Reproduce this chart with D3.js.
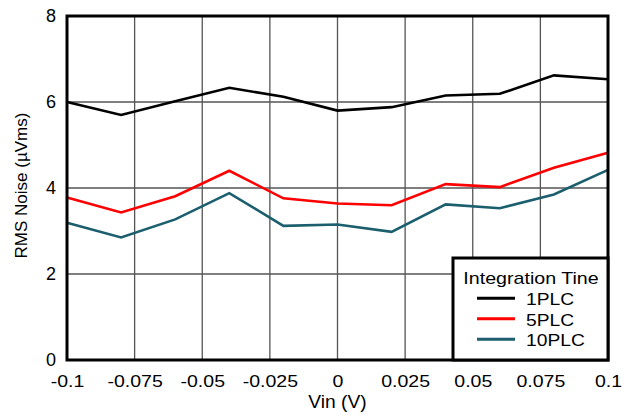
<!DOCTYPE html>
<html>
<head>
<meta charset="utf-8">
<script src="https://cdn.jsdelivr.net/npm/d3@7"></script>
<style>
  body { margin: 0; background: #fff; }
  text { font-family: "Liberation Sans", Arial, sans-serif; fill: #000; }
</style>
</head>
<body>
<svg id="chart" width="631" height="416"></svg>
<script>
// data
var vin = [-0.1, -0.08, -0.06, -0.04, -0.02, 0, 0.02, 0.04, 0.06, 0.08, 0.1]
var plc1 = [6.0, 5.7, 6.02, 6.33, 6.12, 5.8, 5.88, 6.15, 6.19, 6.62, 6.53]
var plc5 = [3.78, 3.43, 3.81, 4.4, 3.76, 3.64, 3.6, 4.09, 4.02, 4.47, 4.82]
var plc10 = [3.19, 2.85, 3.27, 3.88, 3.12, 3.15, 2.98, 3.62, 3.53, 3.85, 4.42]
var seriesNames = ['1PLC', '5PLC', '10PLC']
var xTicks = [-0.1, -0.075, -0.05, -0.025, 0, 0.025, 0.05, 0.075, 0.1]
var yTicks = [0, 2, 4, 6, 8]

var colors = ['#000000', '#ff0000', '#1b5e6d']
var series = [plc1, plc5, plc10]

var m = { left: 67, right: 608, top: 16, bottom: 360 }
var font = '"Liberation Sans", Arial, sans-serif'
var svg = d3.select('#chart')

var x = d3.scaleLinear().domain([-0.1, 0.1]).range([m.left, m.right])
var y = d3.scaleLinear().domain([0, 8]).range([m.bottom, m.top])

// grid
var grid = svg.append('g').attr('stroke', '#555').attr('stroke-width', 1.3)
grid.selectAll('line.gx')
  .data(xTicks.slice(1, -1))
  .enter().append('line')
  .attr('x1', d => x(d)).attr('x2', d => x(d))
  .attr('y1', m.top).attr('y2', m.bottom)
grid.selectAll('line.gy')
  .data(yTicks.slice(1, -1))
  .enter().append('line')
  .attr('x1', m.left).attr('x2', m.right)
  .attr('y1', d => y(d)).attr('y2', d => y(d))

// lines
var line = d3.line()
  .x((d, i) => x(vin[i]))
  .y(d => y(d))

svg.append('g').selectAll('path')
  .data(series)
  .enter().append('path')
  .attr('d', line)
  .attr('fill', 'none')
  .attr('stroke', (d, i) => colors[i])
  .attr('stroke-width', 2.6)

// frame
svg.append('rect')
  .attr('x', m.left).attr('y', m.top)
  .attr('width', m.right - m.left).attr('height', m.bottom - m.top)
  .attr('fill', 'none').attr('stroke', '#000').attr('stroke-width', 3)

// axes, drawn without domain lines
var xAxis = svg.append('g')
  .attr('transform', 'translate(0,' + m.bottom + ')')
  .call(d3.axisBottom(x).tickValues(xTicks).tickSize(0).tickPadding(16)
    .tickFormat(d => d === 0 ? '0' : String(+d.toFixed(3))))
xAxis.select('.domain').remove()
xAxis.selectAll('text')
  .attr('font-size', 16).style('font-family', font).attr('fill', '#000')
  .attr('transform', 'scale(1.22,1)')

var yAxis = svg.append('g')
  .attr('transform', 'translate(' + m.left + ',0)')
  .call(d3.axisLeft(y).tickValues(yTicks).tickSize(0).tickPadding(11).tickFormat(d3.format('d')))
yAxis.select('.domain').remove()
yAxis.selectAll('text').attr('font-size', 18).style('font-family', font).attr('fill', '#000')

svg.append('text')
  .attr('transform', 'translate(337.5,407.5) scale(1.1,1)')
  .attr('text-anchor', 'middle').attr('font-size', 17.5)
  .text('Vin (V)')

svg.append('text')
  .attr('transform', 'translate(27,185.5) rotate(-90)')
  .attr('text-anchor', 'middle').attr('font-size', 17)
  .text('RMS Noise (\u00b5Vms)')

// legend
var lg = svg.append('g')
lg.append('rect')
  .attr('x', 453).attr('y', 258)
  .attr('width', m.right - 453).attr('height', m.bottom - 258)
  .attr('fill', '#fff').attr('stroke', '#000').attr('stroke-width', 3)
lg.append('text')
  .attr('transform', 'translate(531,284) scale(1.17,1)')
  .attr('text-anchor', 'middle').attr('font-size', 16.8)
  .text('Integration Tine')
var items = lg.selectAll('g.item')
  .data(seriesNames)
  .enter().append('g')
  .attr('transform', (d, i) => 'translate(0,' + (298.3 + i * 20.5) + ')')
items.append('line')
  .attr('x1', 477).attr('x2', 515)
  .attr('stroke', (d, i) => colors[i]).attr('stroke-width', 3)
items.append('text')
  .attr('transform', 'translate(526,6.8) scale(1.18,1)')
  .attr('font-size', 16.3)
  .text(d => d)
</script>
</body>
</html>
